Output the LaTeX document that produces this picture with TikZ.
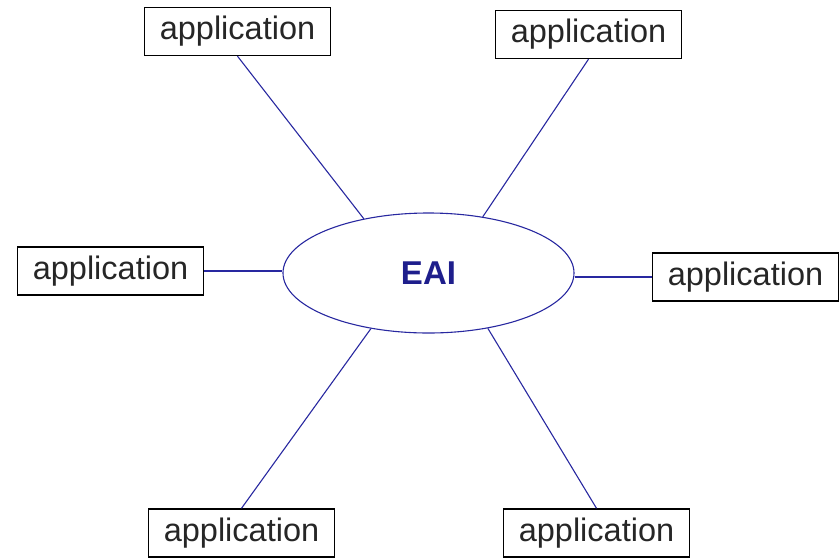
\documentclass[tikz,border=0pt]{standalone}
\usepackage{fontspec}
\setmainfont{Liberation Sans}
\usetikzlibrary{shapes.geometric}
\definecolor{eaiblue}{RGB}{30,30,140}
\definecolor{linkblue}{RGB}{40,40,160}
\begin{document}
\begin{tikzpicture}[x=1pt,y=-1pt,
		appbox/.style={draw=black,line width=1.4pt,minimum width=186pt,minimum height=48pt,inner sep=0pt,font=\fontsize{32.5}{38}\selectfont,text=black!85},
		hub/.style={ellipse,draw=linkblue,line width=1.1pt,minimum width=291pt,minimum height=120pt,inner sep=0pt,font=\fontsize{33}{38}\selectfont\bfseries,text=eaiblue},
		link/.style={draw=linkblue,line width=1.1pt}]
		\def\apptext{application}
		\useasboundingbox (0,0) rectangle (839,558);
		%Hub
		\node[hub] (eai) at (428.5,273) {EAI};
		%Applications
		\node[appbox] (apptl) at (237.5,31.5) {\apptext};
		\node[appbox] (apptr) at (588.5,34.5) {\apptext};
		\node[appbox] (appl) at (110.5,271) {\apptext};
		\node[appbox] (appr) at (745.5,277) {\apptext};
		\node[appbox] (appbl) at (241.5,533) {\apptext};
		\node[appbox] (appbr) at (596.5,533) {\apptext};
		%Links
		\draw[link] (apptl.south) -- (eai.140);
		\draw[link] (apptr.south) -- (eai.46);
		\draw[link] (appl.east) -- (appl.east -| eai.west);
		\draw[link] (appr.west) -- (appr.west -| eai.east);
		\draw[link] (appbl.north) -- (eai.224);
		\draw[link] (appbr.north) -- (eai.317);
\end{tikzpicture}
\end{document}
